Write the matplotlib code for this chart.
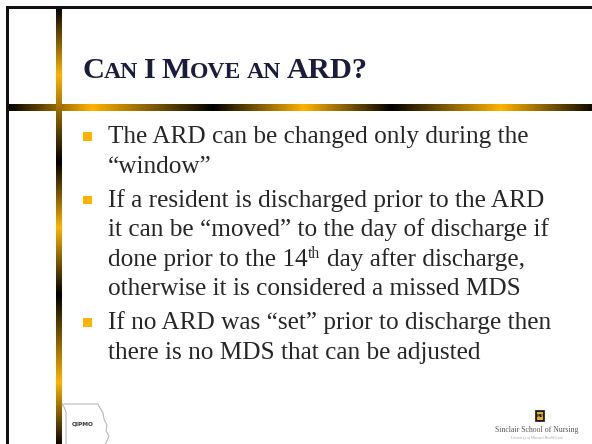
import matplotlib
matplotlib.use('Agg')
import matplotlib.pyplot as plt
import numpy as np
from matplotlib.colors import LinearSegmentedColormap
from matplotlib.patches import Rectangle, Polygon

# ---------------- content ----------------
title_parts = [("C", True), ("AN", False), (" ", None), ("I", True), (" ", None),
               ("M", True), ("OVE", False), (" ", None), ("AN", False), (" ", None),
               ("ARD?", True)]

bullet1 = ["The ARD can be changed only during the",
           "\u201cwindow\u201d"]
bullet2 = ["If a resident is discharged prior to the ARD",
           "it can be \u201cmoved\u201d to the day of discharge if",
           ("done prior to the 14", "th", " day after discharge,"),
           "otherwise it is considered a missed MDS"]
bullet3 = ["If no ARD was \u201cset\u201d prior to discharge then",
           "there is no MDS that can be adjusted"]
bullets = [bullet1, bullet2, bullet3]

logo_left_text = "QIPMO"
logo_right_text = "Sinclair School of Nursing"
logo_right_sub = "University of Missouri Health Care"

# ---------------- figure ----------------
W, H = 592, 444
fig = plt.figure(figsize=(5.92, 4.44), dpi=100)
fig.patch.set_facecolor('white')
ax = fig.add_axes([0, 0, 1, 1])
ax.set_xlim(0, W)
ax.set_ylim(H, 0)
ax.axis('off')
renderer = fig.canvas.get_renderer()

BLACK = '#000000'
GOLD = '#FFB300'

def grad_cmap(stops, colors, lo, hi):
    pos = [(s - lo) / (hi - lo) for s in stops]
    return LinearSegmentedColormap.from_list('g', list(zip(pos, colors)))

# horizontal gradient bar
hx = [7, 91, 213, 304, 392, 502, 592]
hc = [BLACK, GOLD, BLACK, GOLD, BLACK, GOLD, '#100b00']
cm_h = grad_cmap(hx, hc, 7, 592)
ax.imshow(np.linspace(0, 1, 600)[None, :], cmap=cm_h, aspect='auto',
          extent=(7, 592, 111, 104), interpolation='bilinear', zorder=2)

# vertical gradient bar
vy = [7, 75, 163, 228, 295, 383, 444]
vc = [BLACK, GOLD, BLACK, GOLD, BLACK, GOLD, '#100b00']
cm_v = grad_cmap(vy, vc, 7, 444)
ax.imshow(np.linspace(0, 1, 600)[:, None], cmap=cm_v, aspect='auto',
          extent=(56, 62, 444, 7), interpolation='bilinear', zorder=3)

# border lines
ax.add_patch(Rectangle((6, 6), W - 6, 2.7, color='#111111', lw=0, zorder=4))
ax.add_patch(Rectangle((6, 6), 2.7, H - 6, color='#111111', lw=0, zorder=4))

ax.set_xlim(0, W)
ax.set_ylim(H, 0)

# ---------------- helpers ----------------
def text_width(s, fs, **kw):
    t = ax.text(0, 0, s, fontsize=fs, **kw)
    w = t.get_window_extent(renderer).width
    t.remove()
    return w

def space_width(fs, **kw):
    return text_width("x x", fs, **kw) - text_width("xx", fs, **kw)

# ---------------- title ----------------
TFONT = dict(family='Liberation Serif', fontweight='bold', color='#1b1b3d')
def title_width(F):
    w = 0
    for s, big in title_parts:
        if big is None:
            w += space_width(F * 0.8, **TFONT) * 0.9
        else:
            w += text_width(s, F if big else F * 0.78, **TFONT)
    return w

F = 24.0
F = F * 286 / title_width(F)
x = 82
ty = 78
for s, big in title_parts:
    if big is None:
        x += space_width(F * 0.8, **TFONT) * 0.9
        continue
    fs = F if big else F * 0.78
    t = ax.text(x, ty, s, fontsize=fs, va='baseline', ha='left', zorder=5, **TFONT)
    x += t.get_window_extent(renderer).width

# ---------------- body ----------------
BFONT = dict(family='Liberation Serif', color='#262626')
fs = 18.0
fs = fs * 422 / text_width(bullet1[0], fs, **BFONT)

TX = 108
LINE = 29.5
GAP = 4.5
y = 143
for lines in bullets:
    ax.add_patch(Rectangle((83, y - 11), 8.5, 8.5, color=GOLD, lw=0, zorder=5))
    for ln in lines:
        if isinstance(ln, tuple):
            a, sup, b = ln
            xx = TX
            t = ax.text(xx, y, a, fontsize=fs, va='baseline', zorder=5, **BFONT)
            xx += t.get_window_extent(renderer).width + 0.5
            t = ax.text(xx, y - 8, sup, fontsize=fs * 0.62, va='baseline', zorder=5, **BFONT)
            xx += t.get_window_extent(renderer).width + space_width(fs, **BFONT)
            ax.text(xx, y, b.lstrip(), fontsize=fs, va='baseline', zorder=5, **BFONT)
        else:
            ax.text(TX, y, ln, fontsize=fs, va='baseline', zorder=5, **BFONT)
        y += LINE
    y += GAP

# ---------------- logos ----------------
mo = [(62, 404), (98, 404), (100, 408), (103, 413), (104, 419), (107, 425),
      (106, 431), (109, 436), (107, 441), (104, 446), (66, 446), (66, 412), (64, 407)]
ax.add_patch(Polygon(mo, closed=True, facecolor='white', edgecolor='#b8b8b8',
                     lw=0.8, zorder=5))
ax.text(83, 424, logo_left_text, fontsize=4.2, fontweight='bold', color='#333333',
        ha='center', va='center', family='DejaVu Sans', zorder=6)

ax.add_patch(Rectangle((535, 410), 9, 11, facecolor='#1a1a1a', edgecolor='#1a1a1a',
                       lw=0.5, zorder=5))
ax.add_patch(Rectangle((536.5, 411.5), 6, 8, facecolor='#e8b020', lw=0, zorder=6))
ax.text(539.5, 415.5, "MU", fontsize=2.6, color='#111111', fontweight='bold',
        ha='center', va='center', zorder=7)
ax.text(537, 432, logo_right_text, fontsize=5.6, color='#555555', ha='center',
        va='baseline', family='Liberation Serif', zorder=6)
ax.text(537, 438.5, logo_right_sub, fontsize=2.6, color='#9a9a9a', ha='center',
        va='baseline', family='Liberation Serif', style='italic', zorder=6)

fig.savefig('out.png', dpi=100, facecolor='white')
